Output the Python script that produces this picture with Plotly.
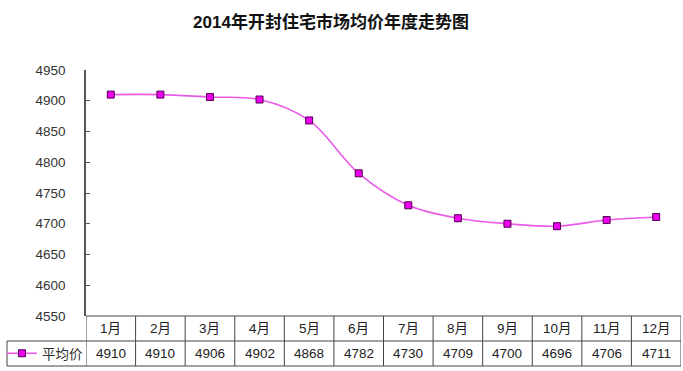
import plotly.graph_objects as go

months = ["1月", "2月", "3月", "4月", "5月", "6月", "7月", "8月", "9月", "10月", "11月", "12月"]
avg_price = [4910, 4910, 4906, 4902, 4868, 4782, 4730, 4709, 4700, 4696, 4706, 4711]
y_ticks = [4550, 4600, 4650, 4700, 4750, 4800, 4850, 4900, 4950]
series_name = "平均价"
title_text = "2014年开封住宅市场均价年度走势图"

W, H = 683, 371
ML, MR, MT, MB = 86, 2, 70, 55
PW, PH = W - ML - MR, H - MT - MB

def py(px_from_axis):
    # pixels below plot bottom -> paper y
    return -px_from_axis / PH

def px(x_pixel):
    return (x_pixel - ML) / PW

FONT = "Liberation Sans, Arial, Noto Sans CJK SC"
LINE_COL = "#444444"

idx = list(range(len(months)))

fig = go.Figure()
fig.add_trace(go.Scatter(
    x=idx, y=avg_price, name=series_name, mode="lines+markers",
    line=dict(color="#E95AE9", width=1.6, shape="spline", smoothing=1.0),
    marker=dict(symbol="square", size=7, color="#EE00EE",
                line=dict(color="#500050", width=1)),
))

shapes = []
row1 = py(25)
row2 = py(50)
# vertical table lines at column boundaries
for k in range(len(months) + 1):
    shapes.append(dict(type="line", xref="x", yref="paper", x0=k - 0.5, x1=k - 0.5,
                       y0=0, y1=row2, line=dict(color=LINE_COL, width=1)))
# horizontal lines
shapes.append(dict(type="line", xref="paper", yref="paper", x0=0, x1=1, y0=0, y1=0,
                   line=dict(color=LINE_COL, width=1)))
shapes.append(dict(type="line", xref="paper", yref="paper", x0=px(7), x1=1, y0=row1, y1=row1,
                   line=dict(color=LINE_COL, width=1)))
shapes.append(dict(type="line", xref="paper", yref="paper", x0=px(7), x1=1, y0=row2, y1=row2,
                   line=dict(color=LINE_COL, width=1)))
shapes.append(dict(type="line", xref="paper", yref="paper", x0=px(7), x1=px(7), y0=row1, y1=row2,
                   line=dict(color=LINE_COL, width=1)))

annotations = []
for i, (m, v) in enumerate(zip(months, avg_price)):
    annotations.append(dict(x=i, y=py(12.5), xref="x", yref="paper", text=m, showarrow=False,
                            font=dict(family=FONT, size=13.5, color="#222"),
                            xanchor="center", yanchor="middle"))
    annotations.append(dict(x=i, y=py(37.5), xref="x", yref="paper", text=str(v), showarrow=False,
                            font=dict(family=FONT, size=13.5, color="#222"),
                            xanchor="center", yanchor="middle"))

fig.update_layout(
    width=W, height=H,
    margin=dict(l=ML, r=MR, t=MT, b=MB, autoexpand=False),
    paper_bgcolor="white", plot_bgcolor="white",
    title=dict(text="<b>" + title_text + "</b>", x=331 / W, xref="container", xanchor="center",
               y=1 - 22 / H, yref="container", yanchor="middle",
               font=dict(family="Liberation Sans, Noto Sans CJK SC", size=17, color="#111")),
    xaxis=dict(range=[-0.5, len(months) - 0.5], showticklabels=False, showgrid=False,
               zeroline=False, showline=False, ticks=""),
    yaxis=dict(range=[y_ticks[0], y_ticks[-1]], tickvals=y_ticks, showgrid=False, zeroline=False,
               showline=True, linecolor="#555", linewidth=1.5, ticks="inside", ticklen=4,
               tickcolor="#555", ticklabelstandoff=16,
               tickfont=dict(family=FONT, size=13.5, color="#333")),
    showlegend=True,
    legend=dict(x=px(2), xanchor="left", y=py(37.5), yanchor="middle", bgcolor="rgba(0,0,0,0)",
                font=dict(family=FONT, size=13.5, color="#333"), itemwidth=30,
                tracegroupgap=0),
    shapes=shapes, annotations=annotations,
)

fig.write_html("out.html", config={"displayModeBar": False},
               post_script="document.body.style.margin='0';")
